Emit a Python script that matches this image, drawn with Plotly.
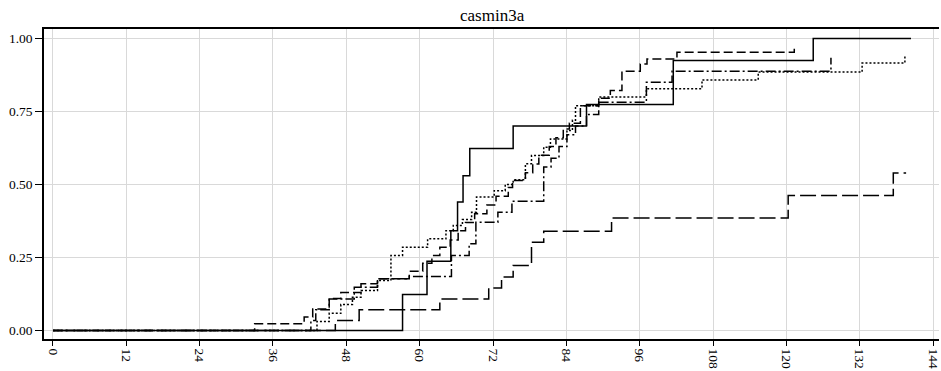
import plotly.graph_objects as go

# ---- data ----
solid_t = [0, 57.2, 61.2, 65.1, 66.2, 67.1, 68.2, 75.3, 87.3, 101.5, 124.4, 140.4]
solid_v = [0, 0.123, 0.237, 0.342, 0.44, 0.53, 0.623, 0.70, 0.774, 0.925, 1.0, 1.0]

dash_t = [0, 33.0, 41.1, 42.5, 45.2, 47.1, 50.4, 53.1, 58.3, 60.5, 62.0, 63.3, 65.0, 66.3, 67.5,
          69.0, 71.0, 72.5, 74.5, 75.2, 77.3, 78.5, 79.5, 81.2, 82.3, 83.5, 84.5, 86.3, 89.3,
          91.2, 93.1, 96.1, 97.2, 102.1, 121.3]
dash_v = [0, 0.023, 0.046, 0.074, 0.11, 0.13, 0.16, 0.177, 0.203, 0.23, 0.257, 0.285, 0.31, 0.342, 0.37,
          0.40, 0.43, 0.46, 0.49, 0.514, 0.54, 0.57, 0.60, 0.63, 0.66, 0.69, 0.71, 0.77, 0.795,
          0.822, 0.888, 0.913, 0.930, 0.953, 0.976]

dot_t = [0, 43.2, 45.2, 47.1, 49.0, 50.4, 53.1, 55.3, 57.2, 61.3, 64.3, 65.5, 67.0, 68.5, 69.3,
         72.2, 74.0, 75.3, 77.3, 78.3, 80.3, 81.4, 84.1, 85.0, 85.5, 89.3, 97.1, 106.2, 115.4, 132.4, 139.4]
dot_v = [0, 0.031, 0.059, 0.089, 0.114, 0.137, 0.171, 0.257, 0.285, 0.314, 0.342, 0.36, 0.38, 0.405, 0.457,
         0.479, 0.50, 0.516, 0.571, 0.599, 0.628, 0.656, 0.685, 0.72, 0.77, 0.80, 0.828, 0.858, 0.885, 0.916, 0.938]

dashdot_t = [0, 42.2, 43.0, 45.2, 49.3, 53.1, 58.3, 65.2, 68.1, 69.2, 72.8, 75.1, 80.3, 81.5,
             82.8, 84.1, 85.5, 87.3, 89.3, 97.1, 101.3, 127.3]
dashdot_v = [0, 0.034, 0.071, 0.108, 0.148, 0.177, 0.185, 0.257, 0.297, 0.371, 0.405, 0.443, 0.56, 0.59,
             0.63, 0.67, 0.70, 0.74, 0.782, 0.85, 0.888, 0.934]

longdash_t = [0, 46.2, 50.1, 63.3, 71.3, 73.4, 75.3, 78.3, 80.3, 91.4, 120.3, 137.5, 139.6]
longdash_v = [0, 0.034, 0.071, 0.108, 0.146, 0.183, 0.223, 0.302, 0.340, 0.385, 0.462, 0.539, 0.539]

x_ticks = [0, 12, 24, 36, 48, 60, 72, 84, 96, 108, 120, 132, 144]
y_ticks = [0, 0.25, 0.5, 0.75, 1.0]
y_tick_text = ["0.00", "0.25", "0.50", "0.75", "1.00"]
title_text = "casmin3a"

series = [
    (solid_t, solid_v, "solid"),
    (dash_t, dash_v, "9px,4px"),
    (dot_t, dot_v, "2px,2px"),
    (dashdot_t, dashdot_v, "10px,3px,2px,3px"),
    (longdash_t, longdash_v, "16px,5px"),
]

fig = go.Figure()
for t, v, d in series:
    fig.add_trace(go.Scatter(x=t, y=v, mode="lines", line_shape="hv",
                             line=dict(color="black", width=1.5, dash=d),
                             showlegend=False, hoverinfo="skip"))

font = dict(family="Liberation Serif, Times New Roman, serif", size=13.5, color="black")

fig.update_layout(
    width=941, height=371,
    margin=dict(l=44, r=0, t=29, b=32),
    paper_bgcolor="white", plot_bgcolor="white",
    font=font,
    title=dict(text=title_text, x=0.523, xanchor="center", y=1 - 15 / 371, yanchor="middle",
               yref="container", font=dict(family=font["family"], size=17, color="black")),
    showlegend=False,
)
fig.update_xaxes(range=[-1.47, 144.98], tickvals=x_ticks, ticktext=[str(x) for x in x_ticks],
                 tickangle=90, ticks="outside", ticklen=5, tickcolor="black", tickwidth=1,
                 ticklabeloverflow="allow",
                 showgrid=True, gridcolor="#d9d9d9", gridwidth=1, zeroline=False,
                 showline=True, linecolor="black", linewidth=1.5, mirror=True,
                 tickfont=font)
fig.update_yaxes(range=[-0.029, 1.0325], tickvals=y_ticks, ticktext=y_tick_text,
                 ticks="outside", ticklen=7, tickcolor="black", tickwidth=1,
                 showgrid=True, gridcolor="#d9d9d9", gridwidth=1, zeroline=False,
                 showline=True, linecolor="black", linewidth=1.5, mirror=False,
                 tickfont=font)

fig.write_html("out.html")
